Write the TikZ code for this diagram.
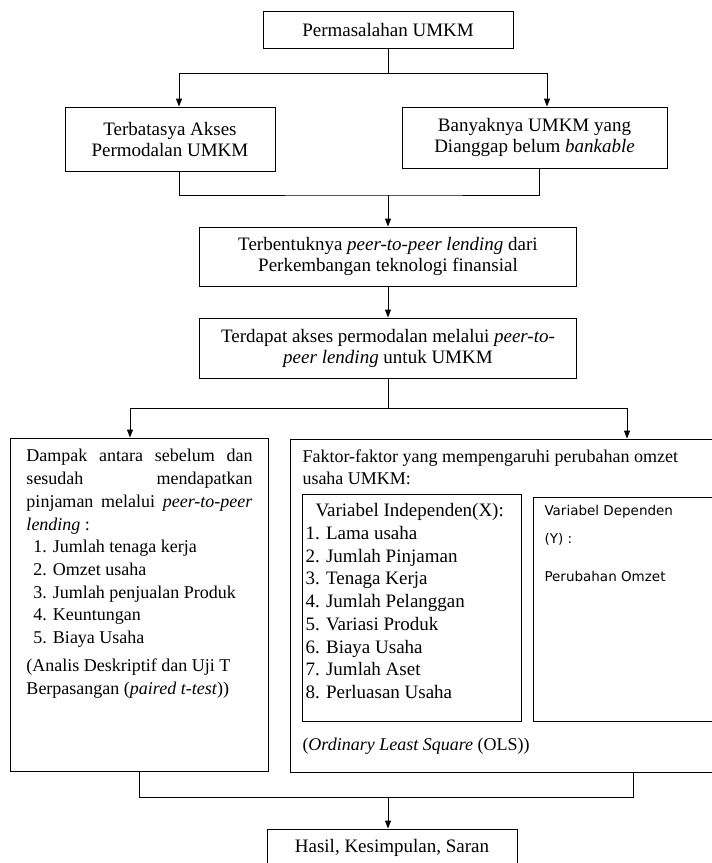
\documentclass[tikz,border=0pt]{standalone}
\usepackage{fontspec}
\setmainfont{Liberation Serif}
\newfontfamily\depfont{DejaVu Sans}
\usetikzlibrary{arrows.meta}

\begin{document}
\begin{tikzpicture}[x=1pt,y=-1pt,line width=1pt,
    box/.style={draw, inner sep=0pt, align=center, font=\fontsize{19}{21}\selectfont},
    txt/.style={inner sep=0pt, anchor=north west, align=left, font=\fontsize{18}{22.7}\selectfont},
    arr/.style={-{Triangle[length=8pt,width=6pt]}}]
    \useasboundingbox (0,0) rectangle (712,863);
    \clip (0,0) rectangle (712,863);
    % boxes
    \node[box, minimum width=250pt, minimum height=37pt] (perm) at (388,29.5) {Permasalahan UMKM};
    \node[box, minimum width=210pt, minimum height=64pt] (akses) at (170,139) {Terbatasya Akses\\ Permodalan UMKM};
    \node[box, minimum width=265pt, minimum height=61pt] (bank) at (534.5,137.5) {Banyaknya UMKM yang\\ Dianggap belum \textit{bankable}};
    \node[box, minimum width=377pt, minimum height=59pt] (p2p) at (388,256.5) {Terbentuknya \textit{peer-to-peer lending} dari\\ Perkembangan teknologi finansial};
    \node[box, minimum width=377pt, minimum height=60pt] (modal) at (388,348) {Terdapat akses permodalan melalui \textit{peer-to-}\\ \textit{peer lending} untuk UMKM};
    \node[box, minimum width=258pt, minimum height=333pt] (dampak) at (139,604.5) {};
    \node[box, minimum width=450pt, minimum height=333pt] (faktor) at (515,605.5) {};
    \node[box, minimum width=219pt, minimum height=227pt] (indep) at (411.5,607.5) {};
    \node[box, minimum width=207pt, minimum height=224pt] (dep) at (636.5,609) {};
    \node[box, minimum width=250pt, minimum height=37pt] (hasil) at (392,847.5) {Hasil, Kesimpulan, Saran};
    % texts
    \node[txt] (dtext) at (26,449) {\makebox[226pt][s]{Dampak antara sebelum dan}\\
        \makebox[226pt][s]{sesudah mendapatkan}\\
        \makebox[226pt][s]{pinjaman melalui \textit{peer-to-peer}}\\
        \textit{lending} :\\
        \hspace*{7pt}1. Jumlah tenaga kerja\\
        \hspace*{7pt}2. Omzet usaha\\
        \hspace*{7pt}3. Jumlah penjualan Produk\\
        \hspace*{7pt}4. Keuntungan\\
        \hspace*{7pt}5. Biaya Usaha\\[5.3pt]
        (Analis Deskriptif dan Uji T\\
        Berpasangan (\textit{paired t-test}))};
    \node[txt] (ftext) at (302,449) {Faktor-faktor yang mempengaruhi perubahan omzet\\ usaha UMKM:};
    \node[txt, font=\fontsize{19}{22.75}\selectfont] (xtext) at (305,503) {\hspace*{10pt}Variabel Independen(X):\\
        1. Lama usaha\\
        2. Jumlah Pinjaman\\
        3. Tenaga Kerja\\
        4. Jumlah Pelanggan\\
        5. Variasi Produk\\
        6. Biaya Usaha\\
        7. Jumlah Aset\\
        8. Perluasan Usaha};
    \node[txt, font=\depfont\fontsize{13.5}{28}\selectfont] (ytext) at (544,505) {Variabel Dependen\\ (Y) :\\[10pt] Perubahan Omzet};
    \node[txt] (ols) at (302,738) {(\textit{Ordinary Least Square} (OLS))};
    % connectors
    \coordinate (split1) at (388,73);
    \draw (perm.south) -- (split1);
    \draw[arr] (split1) -| ([xshift=9pt]akses.north);
    \draw[arr] (split1) -| ([xshift=12.5pt]bank.north);
    \coordinate (join1) at (388,195);
    \draw ([xshift=9pt]akses.south) |- (join1) -| ([xshift=4.5pt]bank.south);
    \draw[arr] (join1) -- (p2p.north);
    \draw[arr] (p2p.south) -- (modal.north);
    \coordinate (split2) at (388,408);
    \draw (modal.south) -- (split2);
    \draw[arr] (split2) -| ([xshift=-9pt]dampak.north);
    \draw[arr] (split2) -| ([xshift=112pt]faktor.north);
    \coordinate (join3) at (388,797);
    \draw (dampak.south) |- (join3) -| ([xshift=118pt]faktor.south);
    \draw[arr] (join3) -- (join3 |- hasil.north);
\end{tikzpicture}
\end{document}
